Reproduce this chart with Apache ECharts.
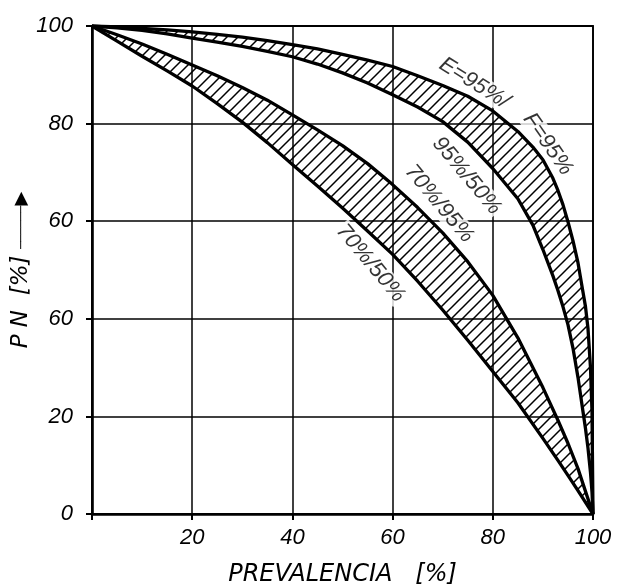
<!DOCTYPE html>
<html>
<head>
<meta charset="utf-8">
<script src="https://cdn.jsdelivr.net/npm/echarts@6/dist/echarts.min.js"></script>
<style>
html,body{margin:0;padding:0;background:#fff;}
#chart{width:617px;height:585px;}
</style>
</head>
<body>
<div id="chart"></div>
<script>
// ---- data ----
const xUpper   = [0, 5, 10, 15, 20, 25, 30, 35, 40, 45, 50, 55, 60, 65, 70, 75, 80, 85, 88, 90, 92, 93, 94, 95, 96, 97, 98, 98.5, 99, 99.5, 99.8, 100];
const pn95_95  = [100, 99.8, 99.5, 99.2, 98.8, 98.3, 97.7, 97.0, 96.2, 95.3, 94.2, 93.0, 91.7, 89.8, 87.8, 85.6, 82.6, 78.4, 75.2, 72.6, 68.8, 66.3, 63.4, 59.9, 56.0, 51.5, 45.5, 42.5, 38.0, 30.0, 21.0, 0];
const pn95_50  = [100, 99.6, 99.1, 98.4, 97.5, 96.7, 95.8, 94.8, 93.7, 92.2, 90.4, 88.3, 85.9, 83.4, 80.4, 76.2, 70.8, 64.6, 59.2, 54.2, 48.8, 45.8, 42.5, 38.8, 34.0, 28.0, 21.0, 17.5, 13.5, 8.5, 4.5, 0];

const xLower   = [0, 5, 10, 15, 20, 25, 30, 35, 40, 45, 50, 55, 60, 65, 70, 75, 80, 85, 90, 93, 95, 97, 100];
const pn70_95  = [100, 98.2, 96.3, 94.2, 92.0, 89.8, 87.4, 84.8, 81.8, 78.7, 75.5, 71.8, 67.5, 62.8, 57.6, 51.7, 44.8, 36.1, 25.9, 19.2, 14.5, 9.3, 0];
const pn70_50  = [100, 96.9, 93.8, 90.8, 87.7, 84.1, 80.3, 76.1, 71.6, 67.2, 62.7, 58.0, 53.2, 47.7, 41.8, 35.6, 29.2, 22.8, 15.5, 11.0, 7.9, 4.8, 0];

const xTickValues = [0, 20, 40, 60, 80, 100];
const xTickLabels = ['', '20', '40', '60', '80', '100'];
const yTickValues = [0, 20, 40, 60, 80, 100];
const yTickLabels = ['0', '20', '60', '60', '80', '100'];

const curveLabels = ['E=95%/', 'F=95%', '95%/50%', '70%/95%', '70%/50%'];

// ---- build ----
function hatchPattern() {
  const s = 11;
  const c = document.createElement('canvas');
  c.width = s; c.height = s;
  const g = c.getContext('2d');
  g.strokeStyle = '#000';
  g.lineWidth = 1.5;
  g.beginPath();
  g.moveTo(0, s); g.lineTo(s, 0);
  g.moveTo(-2, 2); g.lineTo(2, -2);
  g.moveTo(s - 2, s + 2); g.lineTo(s + 2, s - 2);
  g.stroke();
  return { image: c, repeat: 'repeat' };
}
const pattern = hatchPattern();

const FONT = '"Liberation Sans", Arial, sans-serif';
const FONT2 = '"DejaVu Sans", sans-serif';
const lineStyle = { color: '#000', width: 3.3, join: 'round' };

function pairs(xs, ys) { return xs.map((x, i) => [x, ys[i]]); }

function bandSeries(xs, top, bot) {
  return {
    type: 'custom', z: 2, silent: true,
    data: [[xs[0], top[0]]],
    renderItem: function (params, api) {
      const pts = [];
      for (let i = 0; i < xs.length; i++) pts.push(api.coord([xs[i], top[i]]));
      for (let i = xs.length - 1; i >= 0; i--) pts.push(api.coord([xs[i], bot[i]]));
      return { type: 'polygon', shape: { points: pts }, style: { fill: pattern, stroke: null } };
    }
  };
}
function curveSeries(name, xs, ys) {
  return { name: name, type: 'line', data: pairs(xs, ys), showSymbol: false, lineStyle: lineStyle, z: 3, silent: true };
}

const labelPlacement = [
  { pos: [76.3, 88.3], rot: -32 },
  { pos: [91.0, 75.8], rot: -55 },
  { pos: [74.8, 69.3], rot: -50 },
  { pos: [69.3, 63.6], rot: -50 },
  { pos: [55.6, 51.4], rot: -50 }
];

const chart = echarts.init(document.getElementById('chart'), null, { renderer: 'canvas' });
chart.setOption({
  animation: false,
  backgroundColor: '#fff',
  grid: {
    left: 92, right: 24, top: 26, bottom: 71, containLabel: false, outerBoundsMode: 'none',
    show: true, borderColor: '#000', borderWidth: 1.8, backgroundColor: 'transparent'
  },
  xAxis: {
    type: 'value', min: 0, max: 100, interval: 20,
    name: 'PREVALENCIA   [%]', nameLocation: 'middle', nameGap: 49, nameMoveOverlap: false,
    nameTextStyle: { fontFamily: FONT2, fontStyle: 'italic', fontSize: 24, color: '#000' },
    axisLine: { show: true, lineStyle: { color: '#000', width: 2.6 } },
    axisTick: { show: true, inside: false, length: 6, lineStyle: { color: '#000', width: 2 } },
    axisLabel: {
      margin: 13, fontFamily: FONT, fontStyle: 'italic', fontSize: 22, color: '#000',
      formatter: v => xTickLabels[xTickValues.indexOf(v)] ?? ''
    },
    splitLine: { show: true, lineStyle: { color: '#000', width: 1.5 } }
  },
  yAxis: {
    type: 'value', min: 0, max: 100, interval: 20,
    name: '{t|P N  [%]}  {a|──────}{h|▶}', nameLocation: 'middle', nameGap: 59, nameRotate: 90, nameMoveOverlap: false,
    nameTextStyle: {
      rich: {
        t: { fontFamily: FONT2, fontStyle: 'italic', fontSize: 23, color: '#000' },
        a: { fontFamily: FONT2, fontSize: 12, color: '#000' },
        h: { fontFamily: FONT2, fontSize: 18, color: '#000' }
      }
    },
    axisLine: { show: true, lineStyle: { color: '#000', width: 2.6 } },
    axisTick: { show: true, inside: false, length: 6, lineStyle: { color: '#000', width: 2 } },
    axisLabel: {
      margin: 19, fontFamily: FONT, fontStyle: 'italic', fontSize: 22, color: '#000',
      formatter: v => yTickLabels[yTickValues.indexOf(v)] ?? ''
    },
    splitLine: { show: true, lineStyle: { color: '#000', width: 1.5 } }
  },
  series: [
    bandSeries(xUpper, pn95_95, pn95_50),
    bandSeries(xLower, pn70_95, pn70_50),
    curveSeries('95%/95%', xUpper, pn95_95),
    curveSeries('95%/50%', xUpper, pn95_50),
    curveSeries('70%/95%', xLower, pn70_95),
    curveSeries('70%/50%', xLower, pn70_50),
    {
      name: 'labels', type: 'scatter', symbolSize: 0, z: 5, silent: true,
      data: curveLabels.map((t, i) => ({
        value: labelPlacement[i].pos,
        label: {
          show: true, position: 'inside', formatter: t, rotate: labelPlacement[i].rot,
          fontFamily: FONT, fontStyle: 'italic', fontSize: 22, color: '#000',
          backgroundColor: '#fff', padding: [0, 1]
        }
      }))
    }
  ]
});
</script>
</body>
</html>
